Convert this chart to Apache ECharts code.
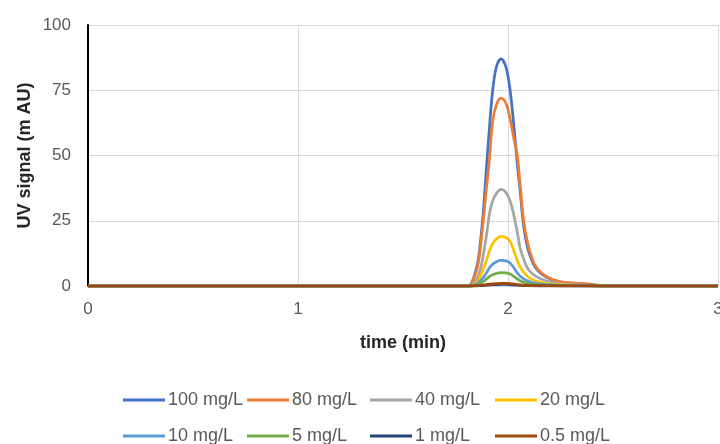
<!DOCTYPE html>
<html>
<head>
<meta charset="utf-8">
<script src="https://cdn.jsdelivr.net/npm/echarts@6/dist/echarts.min.js"></script>
<style>
  html, body { margin: 0; padding: 0; background: #fff; }
  #chart { width: 720px; height: 444px; }
</style>
</head>
<body>
<div id="chart"></div>
<script>
// === ДАННЫЕ ===
const seriesNames = ['100 mg/L', '80 mg/L', '40 mg/L', '20 mg/L', '10 mg/L', '5 mg/L', '1 mg/L', '0.5 mg/L'];
const seriesColors = ['#4472C4', '#ED7D31', '#A5A5A5', '#FFC000', '#5B9BD5', '#70AD47', '#264478', '#9E480E'];

// время (мин)
const times = [0, 1.80, 1.82, 1.835, 1.855, 1.867, 1.882, 1.898, 1.911, 1.927, 1.945, 1.967, 1.99, 2.01, 2.027, 2.044, 2.057, 2.073, 2.087, 2.101, 2.133, 2.184, 2.248, 2.36, 2.45, 3];

const c100 = [0, 0, 0.3, 2.8, 8.5, 15.5, 28, 46, 60, 75, 84, 87, 84, 75, 62, 47, 37, 24, 17, 12.5, 6.8, 3.3, 1.5, 0.8, 0.2, 0];
const c80 = [0, 0, 0.2, 2.3, 7.4, 13.8, 25, 38, 48, 63, 69.5, 72, 70, 64, 57, 50, 39.5, 26, 19, 14, 7.4, 3.6, 1.7, 0.9, 0.2, 0];
const c40 = [0, 0, 0, 0.7, 3.3, 5.9, 11.8, 19.6, 27.4, 32.6, 35.5, 37, 35.9, 32.6, 27.4, 20.7, 14.8, 10.7, 7.8, 5.9, 3.7, 1.9, 0.9, 0.4, 0, 0];
const c20 = [0, 0, 0, 0.4, 1.7, 3.6, 6.3, 9.9, 13.3, 16.2, 18, 19, 18.6, 17.1, 13.7, 9.9, 7.4, 5.5, 4.2, 3.2, 1.9, 1, 0.5, 0.2, 0, 0];
const c10 = [0, 0, 0, 0.2, 0.9, 1.9, 3.2, 5.1, 6.9, 8.3, 9.3, 9.8, 9.6, 8.8, 7.1, 5.1, 3.8, 2.8, 2.2, 1.7, 1, 0.5, 0.25, 0.1, 0, 0];
const c5 = [0, 0, 0, 0.1, 0.5, 1, 1.7, 2.7, 3.6, 4.3, 4.8, 5.1, 5, 4.6, 3.7, 2.7, 2, 1.5, 1.1, 0.9, 0.5, 0.25, 0.1, 0, 0, 0];
const c1 = [0, 0, 0, 0, 0.05, 0.1, 0.2, 0.3, 0.4, 0.5, 0.57, 0.6, 0.59, 0.54, 0.43, 0.31, 0.23, 0.17, 0.13, 0.1, 0.06, 0.03, 0, 0, 0, 0];
const c05 = [0, 0, 0, 0.02, 0.09, 0.19, 0.33, 0.52, 0.7, 0.85, 0.95, 1, 0.98, 0.9, 0.72, 0.52, 0.39, 0.29, 0.22, 0.17, 0.1, 0.05, 0.03, 0.01, 0, 0];

const seriesValues = [c100, c80, c40, c20, c10, c5, c1, c05];

const xTicks = [0, 1, 2, 3];
const yTicks = [0, 25, 50, 75, 100];

// === РЕНДЕРИНГ ===
const chart = echarts.init(document.getElementById('chart'));
const font = 'Liberation Sans';
const textColor = '#595959';

// легенда: 4 колонки x 2 строки, каждая позиция отдельно
const legendCols = [118, 242, 365, 490];
const legendRows = [386, 422];
const legends = seriesNames.map((name, i) => ({
    left: legendCols[i % 4],
    top: legendRows[Math.floor(i / 4)],
    data: [name],
    itemWidth: 42,
    itemHeight: 14,
    icon: 'path://M0,6 L42,6 L42,9 L0,9 Z',
    textStyle: { fontFamily: font, fontSize: 18, color: textColor, padding: [0, 0, 0, -2] }
}));

const option = {
    animation: false,
    grid: { left: 88, right: 2, top: 25, bottom: 158, outerBoundsMode: 'none' },
    legend: legends,
    xAxis: {
        type: 'value',
        min: xTicks[0],
        max: xTicks[xTicks.length - 1],
        interval: 1,
        name: 'time (min)',
        nameLocation: 'middle',
        nameGap: 48,
        nameMoveOverlap: false,
        nameTextStyle: { fontFamily: font, fontSize: 18, fontWeight: 'bold', color: '#262626' },
        axisLine: { show: true, lineStyle: { color: '#D9D9D9', width: 1 } },
        axisTick: { show: false },
        axisLabel: { fontFamily: font, fontSize: 17, color: textColor, margin: 15 },
        splitLine: { show: true, lineStyle: { color: '#D9D9D9', width: 1 } }
    },
    yAxis: {
        type: 'value',
        min: yTicks[0],
        max: yTicks[yTicks.length - 1],
        interval: 25,
        name: 'UV signal (m AU)',
        nameLocation: 'middle',
        nameGap: 54,
        nameMoveOverlap: false,
        nameTextStyle: { fontFamily: font, fontSize: 18, fontWeight: 'bold', color: '#262626' },
        axisLine: { show: true, lineStyle: { color: '#000000', width: 2 } },
        axisTick: { show: false },
        axisLabel: { fontFamily: font, fontSize: 17, color: textColor, margin: 17 },
        splitLine: { show: true, lineStyle: { color: '#D9D9D9', width: 1 } }
    },
    series: seriesNames.map((name, i) => ({
        name: name,
        type: 'line',
        showSymbol: false,
        smooth: 0.35,
        color: seriesColors[i],
        lineStyle: { width: 2.75, color: seriesColors[i] },
        data: times.map((t, k) => [t, seriesValues[i][k]])
    }))
};

chart.setOption(option);
</script>
</body>
</html>
